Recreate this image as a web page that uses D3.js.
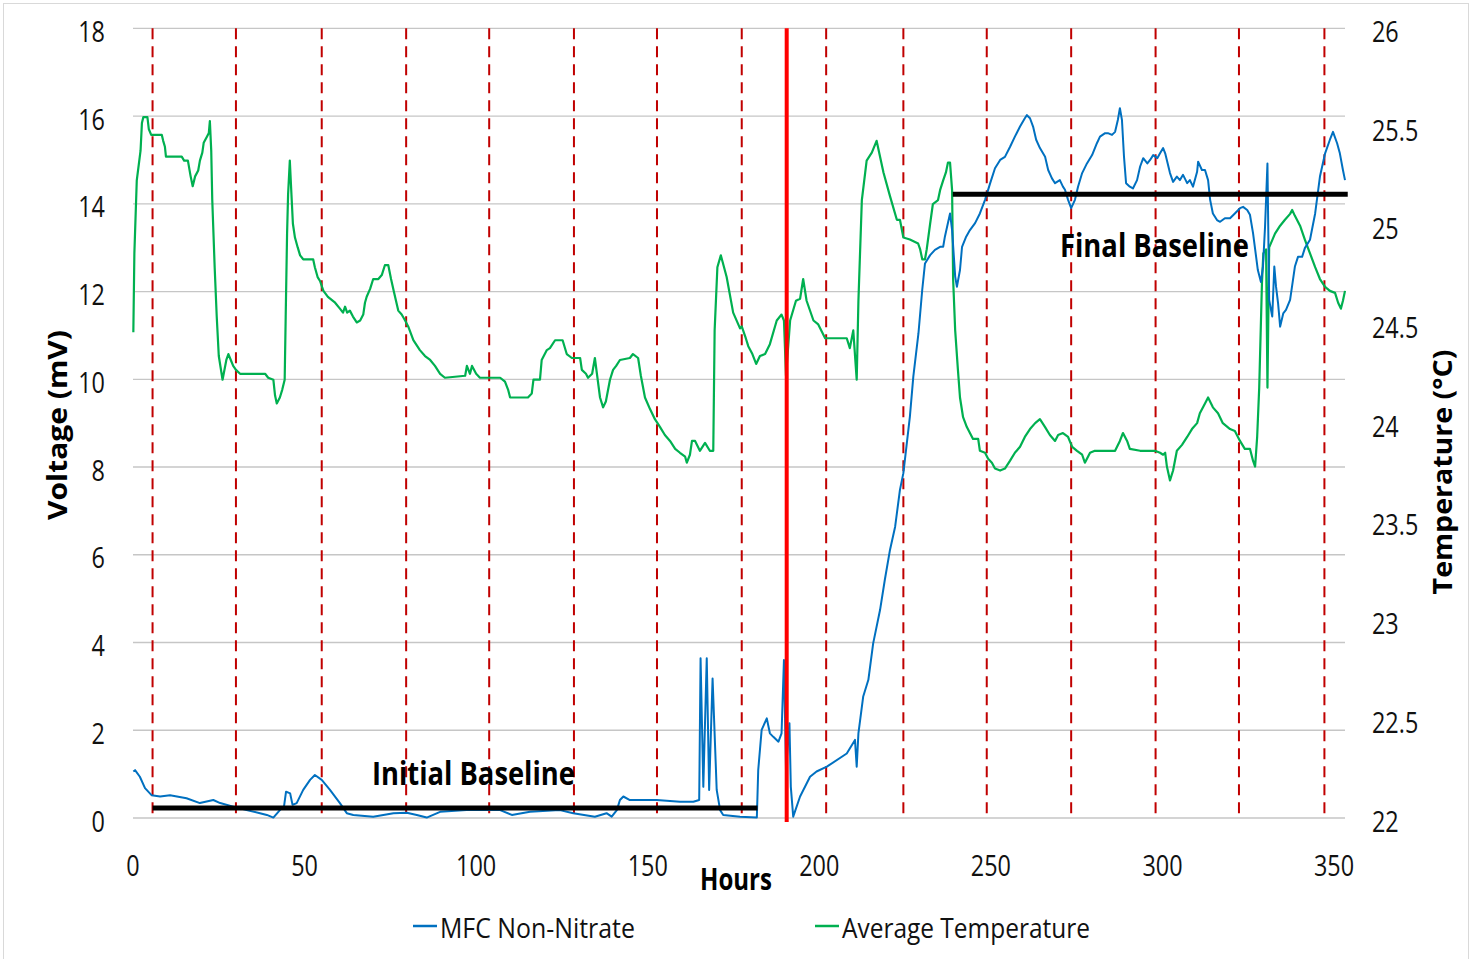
<!DOCTYPE html>
<html><head><meta charset="utf-8">
<script src="https://cdn.jsdelivr.net/npm/d3@7"></script>
<style>body{margin:0;background:#fff}svg{display:block}</style>
</head><body><svg id="c" width="1470" height="959"></svg>
<script>
// ---------- DATA ----------
const seriesNames = ["MFC Non-Nitrate", "Average Temperature"];
const xTickValues = [0, 50, 100, 150, 200, 250, 300, 350];
const voltageTicks = [0, 2, 4, 6, 8, 10, 12, 14, 16, 18];
const tempTicks = [22, 22.5, 23, 23.5, 24, 24.5, 25, 25.5, 26];
const feedHours = [5.7, 30, 55, 79.6, 103.8, 128.5, 152.7, 177.4, 202, 224.5, 248.8, 273.4, 298, 322.3, 347.2];
const nitrateHour = [190.5];
const initialBaseline = [5.7, 182, 0.23];   // start hour, end hour, mV
const finalBaseline = [238.9, 354, 14.22];  // start hour, end hour, mV
const baselineLabels = ["Initial Baseline", "Final Baseline"];

// [hours, mV]
const mfcVoltage = [
[0.1,1.06],[0.6,1.09],[2.0,0.94],[3.5,0.68],[5.4,0.52],[7.9,0.49],[10.8,0.52],[15.6,0.45],[19.5,0.34],[23.4,0.41],
[25.4,0.34],[29.2,0.26],[33.1,0.18],[37.0,0.11],[39.0,0.07],[40.9,0.01],[42.8,0.18],[44.0,0.26],[44.6,0.60],[45.8,0.56],
[46.5,0.30],[47.7,0.34],[49.6,0.64],[51.6,0.87],[53.0,0.98],[55.0,0.87],[57.4,0.64],[60.3,0.34],[62.3,0.11],[64.2,0.07],
[70.0,0.03],[75.9,0.11],[79.8,0.12],[82.7,0.07],[85.6,0.01],[89.5,0.14],[97.2,0.18],[107.0,0.18],[110.4,0.07],[115.7,0.14],
[124.4,0.18],[128.3,0.11],[134.6,0.03],[138.0,0.11],[139.5,0.03],[141.0,0.18],[141.9,0.41],[142.9,0.49],[144.8,0.41],[152.6,0.41],
[159.4,0.37],[163.3,0.37],[165.0,0.41],[165.4,3.64],[166.2,0.71],[167.2,3.64],[167.9,0.64],[168.9,3.18],[170.1,0.64],[171.1,0.18],
[172.0,0.07],[176.9,0.03],[181.8,0.01],[182.2,1.09],[183.2,2.01],[184.7,2.27],[185.6,1.93],[186.6,1.85],[188.1,1.74],[189.0,1.93],
[189.7,3.60],[190.3,1.09],[191.3,2.16],[191.7,0.71],[192.4,0.03],[194.4,0.49],[197.3,0.94],[199.2,1.06],[202.2,1.17],[208.0,1.47],
[210.4,1.78],[210.9,1.17],[211.4,1.93],[212.8,2.77],[214.3,3.15],[215.7,3.98],[217.7,4.74],[219.1,5.43],[220.6,6.11],[222.1,6.64],
[223.5,7.48],[224.5,7.86],[226.4,9.15],[227.4,10.06],[228.9,11.05],[230.0,12.04],[230.8,12.64],[232.3,12.83],[233.7,12.95],[235.2,13.02],
[236.1,13.02],[236.6,13.25],[238.1,13.78],[238.7,13.40],[239.6,12.34],[240.1,12.11],[241.0,12.49],[241.6,13.02],[242.8,13.25],[243.9,13.40],
[245.4,13.56],[246.8,13.78],[248.3,14.09],[249.8,14.47],[251.2,14.81],[252.7,15.00],[254.1,15.07],[255.6,15.30],[257.0,15.53],[258.5,15.76],
[259.9,15.95],[260.5,16.02],[261.4,15.95],[262.3,15.76],[263.2,15.46],[264.3,15.27],[265.8,15.07],[266.7,14.77],[267.8,14.58],[268.7,14.47],
[270.1,14.54],[271.0,14.39],[271.6,14.32],[272.5,14.09],[273.4,13.90],[274.5,14.09],[275.4,14.39],[276.6,14.70],[278.0,14.92],[279.5,15.11],
[280.9,15.38],[281.8,15.53],[283.3,15.61],[284.1,15.61],[285.3,15.57],[286.2,15.64],[287.0,15.91],[287.6,16.18],[288.2,15.91],[288.8,15.07],
[289.4,14.47],[290.5,14.39],[291.4,14.35],[292.6,14.54],[293.5,14.85],[294.4,15.04],[295.6,14.92],[296.4,15.00],[297.3,15.11],[298.5,15.04],
[299.3,15.15],[300.2,15.27],[300.8,15.15],[302.2,14.70],[303.1,14.50],[304.2,14.62],[305.1,14.54],[306.0,14.66],[307.2,14.47],[308.0,14.54],
[308.9,14.39],[310.1,14.73],[310.4,14.96],[311.5,14.77],[312.4,14.77],[313.3,14.54],[313.9,14.09],[314.7,13.78],[315.9,13.63],[316.8,13.59],
[318.2,13.67],[319.7,13.67],[321.1,13.78],[322.6,13.90],[323.5,13.93],[324.7,13.86],[325.5,13.75],[326.4,13.33],[327.3,12.79],[327.8,12.49],
[328.7,12.22],[329.3,12.57],[329.9,13.48],[330.6,14.92],[331.1,11.81],[332.0,11.43],[332.6,12.57],[333.1,12.11],[333.7,11.73],[334.3,11.20],
[335.2,11.50],[336.0,11.58],[337.2,11.81],[338.6,12.57],[339.5,12.79],[340.7,12.79],[341.5,12.99],[343.0,13.18],[344.5,13.78],[345.9,14.62],
[347.4,15.15],[348.8,15.46],[349.7,15.64],[350.9,15.38],[351.7,15.15],[352.6,14.77],[353.2,14.54]
];

// [hours, °C]
const avgTemperature = [
[0.1,24.46],[0.4,24.86],[1.1,25.23],[2.2,25.38],[2.6,25.52],[3.0,25.55],[4.2,25.55],[4.6,25.49],[5.3,25.46],[8.4,25.46],
[8.8,25.43],[9.3,25.40],[9.6,25.35],[14.2,25.35],[14.9,25.33],[16.0,25.33],[16.8,25.25],[17.4,25.20],[18.1,25.25],[19.0,25.28],
[19.5,25.33],[20.2,25.37],[20.6,25.42],[21.5,25.45],[22.1,25.47],[22.4,25.53],[22.8,25.38],[23.1,25.13],[23.8,24.79],[24.4,24.54],
[25.0,24.34],[26.1,24.22],[27.2,24.32],[27.8,24.35],[28.5,24.32],[29.2,24.29],[30.0,24.27],[31.2,24.25],[38.5,24.25],[39.4,24.23],
[40.9,24.22],[41.4,24.14],[41.9,24.10],[42.8,24.13],[43.5,24.17],[44.2,24.22],[44.5,24.54],[44.9,24.96],[45.2,25.16],[45.7,25.33],
[46.0,25.22],[46.6,25.01],[47.2,24.94],[48.0,24.89],[48.7,24.85],[49.6,24.83],[52.5,24.83],[53.0,24.79],[53.8,24.74],[54.5,24.72],
[55.5,24.67],[56.8,24.64],[58.9,24.61],[60.3,24.58],[61.2,24.56],[61.8,24.59],[62.4,24.56],[63.2,24.57],[64.1,24.54],[65.2,24.51],
[66.2,24.52],[67.1,24.55],[67.6,24.61],[68.1,24.64],[69.1,24.68],[70.0,24.73],[71.5,24.73],[72.5,24.75],[73.4,24.80],[74.4,24.80],
[75.2,24.73],[76.1,24.66],[77.3,24.57],[78.3,24.55],[79.3,24.52],[80.2,24.49],[81.7,24.42],[83.6,24.37],[85.1,24.34],[86.6,24.32],
[88.0,24.29],[89.5,24.25],[90.9,24.23],[96.8,24.24],[97.3,24.29],[98.2,24.25],[98.8,24.29],[100.0,24.25],[101.1,24.23],[107.0,24.23],
[108.4,24.21],[109.3,24.17],[109.9,24.13],[115.1,24.13],[116.2,24.15],[116.7,24.22],[118.6,24.22],[119.1,24.32],[120.6,24.37],[121.5,24.38],
[123.0,24.42],[125.2,24.42],[126.4,24.35],[127.9,24.33],[130.3,24.33],[130.8,24.27],[132.0,24.25],[132.6,24.23],[133.8,24.25],[134.6,24.33],
[135.2,24.25],[136.1,24.13],[137.0,24.08],[137.8,24.11],[139.0,24.22],[139.9,24.27],[140.8,24.29],[141.9,24.32],[144.8,24.33],[145.7,24.35],
[147.2,24.33],[148.0,24.24],[149.2,24.13],[150.7,24.07],[152.1,24.02],[153.6,23.98],[155.0,23.94],[156.5,23.91],[158.0,23.87],[159.4,23.85],
[160.9,23.83],[161.4,23.80],[162.3,23.84],[162.9,23.91],[163.8,23.91],[165.2,23.86],[166.7,23.90],[168.1,23.86],[169.1,23.86],[169.5,24.47],
[170.3,24.79],[171.3,24.85],[173.0,24.74],[174.9,24.56],[176.9,24.48],[177.4,24.49],[178.4,24.44],[179.3,24.39],[180.5,24.35],[181.6,24.30],
[182.7,24.34],[184.2,24.35],[185.6,24.40],[187.6,24.52],[189.0,24.55],[189.7,24.52],[190.3,24.24],[191.5,24.52],[193.2,24.62],[194.4,24.63],
[195.3,24.73],[196.3,24.62],[198.3,24.52],[199.7,24.50],[201.7,24.43],[208.0,24.43],[208.9,24.38],[209.9,24.47],[210.9,24.22],[211.4,24.62],
[212.4,25.13],[213.8,25.33],[215.3,25.37],[216.7,25.43],[218.7,25.27],[220.6,25.15],[222.6,25.03],[223.5,25.03],[224.5,24.94],[226.4,24.93],
[228.8,24.91],[229.4,24.88],[230.0,24.83],[230.8,24.83],[231.3,24.88],[232.3,25.01],[233.1,25.11],[234.6,25.13],[235.2,25.18],[236.1,25.23],
[236.9,25.27],[237.5,25.32],[238.1,25.32],[238.7,25.18],[239.0,24.73],[239.6,24.47],[240.4,24.27],[241.0,24.13],[241.9,24.03],[243.0,23.98],
[243.9,23.95],[244.8,23.92],[246.3,23.92],[246.8,23.86],[248.3,23.85],[249.2,23.82],[250.3,23.80],[251.2,23.77],[252.7,23.76],[254.1,23.77],
[255.6,23.81],[257.0,23.85],[258.5,23.88],[259.9,23.93],[261.4,23.97],[262.9,24.00],[264.3,24.02],[265.8,23.98],[267.2,23.94],[268.7,23.91],
[269.6,23.94],[271.0,23.95],[272.5,23.93],[273.7,23.88],[275.1,23.86],[276.6,23.84],[277.4,23.80],[278.9,23.85],[280.3,23.86],[283.3,23.86],
[286.2,23.86],[287.6,23.91],[288.5,23.95],[289.7,23.91],[290.5,23.87],[293.5,23.86],[296.4,23.86],[297.8,23.86],[299.3,23.85],[300.2,23.84],
[300.8,23.85],[301.3,23.78],[302.2,23.71],[303.1,23.76],[304.2,23.86],[305.7,23.89],[307.2,23.93],[308.6,23.97],[310.1,24.00],[310.9,24.05],
[312.4,24.10],[313.3,24.13],[314.7,24.08],[316.2,24.05],[317.6,24.00],[319.7,23.97],[321.1,23.96],[322.6,23.91],[324.0,23.87],[325.5,23.87],
[326.4,23.81],[327.0,23.78],[327.6,23.93],[328.2,24.18],[329.0,24.71],[329.4,24.86],[330.2,24.88],[330.6,24.18],[331.1,24.89],[332.8,24.96],
[334.3,25.00],[335.7,25.03],[337.2,25.06],[337.8,25.08],[338.6,25.05],[340.1,25.00],[341.5,24.93],[343.0,24.86],[344.5,24.79],[345.9,24.73],
[347.4,24.69],[348.8,24.67],[350.3,24.66],[351.2,24.61],[352.0,24.58],[352.6,24.62],[353.2,24.67]
];

// ---------- DRAW ----------
const FONT = "'Open Sans', 'DejaVu Sans', sans-serif";
const svg = d3.select("#c");
const X0 = 133, X1 = 1345, Y0 = 818, Y1 = 28.3;
const x = d3.scaleLinear().domain([0, 353.2]).range([X0, X1]);
const yV = d3.scaleLinear().domain([0, 18]).range([Y0, Y1]);
const yT = d3.scaleLinear().domain([22, 26]).range([Y0, Y1]);

svg.append("rect").attr("x", 3.5).attr("y", 3.5).attr("width", 1465).attr("height", 970)
  .attr("fill", "#fff").attr("stroke", "#d9d9d9").attr("stroke-width", 1);

function label(parent, px, py, str, o) {
  const g = parent.append("g").attr("transform", `translate(${px},${py})` + (o.rotate ? ` rotate(${o.rotate})` : ""));
  const t = g.append("text").text(str)
    .attr("font-family", FONT).attr("font-size", o.size)
    .attr("font-weight", o.bold ? 700 : 400)
    .attr("text-anchor", o.anchor || "start")
    .attr("fill", o.fill || "#000");
  let sx = o.sx || 1;
  if (o.width) sx = o.width / t.node().getComputedTextLength();
  t.attr("transform", `scale(${sx},1)`);
  return g;
}

// gridlines
svg.append("g").selectAll("line").data(voltageTicks).join("line")
  .attr("x1", X0).attr("x2", X1).attr("y1", d => yV(d)).attr("y2", d => yV(d))
  .attr("stroke", "#c6c6c6").attr("stroke-width", 1.3);

// dashed feeding lines
svg.append("g").selectAll("line").data(feedHours).join("line")
  .attr("x1", d => x(d)).attr("x2", d => x(d)).attr("y1", Y1).attr("y2", Y0)
  .attr("stroke", "#c00000").attr("stroke-width", 2).attr("stroke-dasharray", "11,7");

// series
const lineT = d3.line().x(d => x(d[0])).y(d => yT(d[1]));
const lineV = d3.line().x(d => x(d[0])).y(d => yV(d[1]));
svg.append("path").datum(avgTemperature).attr("d", lineT)
  .attr("fill", "none").attr("stroke", "#00b050").attr("stroke-width", 2.2).attr("stroke-linejoin", "round");
svg.append("path").datum(mfcVoltage).attr("d", lineV)
  .attr("fill", "none").attr("stroke", "#0070c0").attr("stroke-width", 2).attr("stroke-linejoin", "round");

// nitrate addition (solid red)
svg.append("g").selectAll("line").data(nitrateHour).join("line")
  .attr("x1", d => x(d)).attr("x2", d => x(d)).attr("y1", Y1).attr("y2", Y0 + 4)
  .attr("stroke", "#ff0000").attr("stroke-width", 4);

// baselines
[initialBaseline, finalBaseline].forEach(b => {
  svg.append("line").attr("x1", x(b[0])).attr("x2", x(b[1])).attr("y1", yV(b[2])).attr("y2", yV(b[2]))
    .attr("stroke", "#000").attr("stroke-width", 5);
});
label(svg, 372, 785, baselineLabels[0], {size: 32, bold: true, width: 203});
label(svg, 1060, 257, baselineLabels[1], {size: 32, bold: true, width: 189});

// tick labels
const TS = 30, TSX = 0.78;
voltageTicks.forEach(v => label(svg, 105, yV(v) + 13.5, String(v), {size: TS, anchor: "end", sx: TSX, fill: "#111"}));
tempTicks.forEach(v => label(svg, 1372, yT(v) + 13.5, String(v), {size: TS, anchor: "start", sx: TSX, fill: "#111"}));
xTickValues.forEach(v => label(svg, x(v), 876, String(v), {size: TS, anchor: "middle", sx: TSX, fill: "#111"}));

// axis titles
label(svg, 67, 425, "Voltage (mV)", {size: 26, bold: true, anchor: "middle", rotate: -90, width: 190});
label(svg, 1452, 472, "Temperature (°C)", {size: 26, bold: true, anchor: "middle", rotate: -90, width: 245});
label(svg, 736, 890, "Hours", {size: 31, bold: true, anchor: "middle", width: 72});

// legend
svg.append("line").attr("x1", 413).attr("x2", 437).attr("y1", 926).attr("y2", 926).attr("stroke", "#0070c0").attr("stroke-width", 2.5);
label(svg, 440, 938, seriesNames[0], {size: 28, width: 195, fill: "#111"});
svg.append("line").attr("x1", 815).attr("x2", 839).attr("y1", 926).attr("y2", 926).attr("stroke", "#00b050").attr("stroke-width", 2.5);
label(svg, 842, 938, seriesNames[1], {size: 28, width: 248, fill: "#111"});
</script>
</body></html>
